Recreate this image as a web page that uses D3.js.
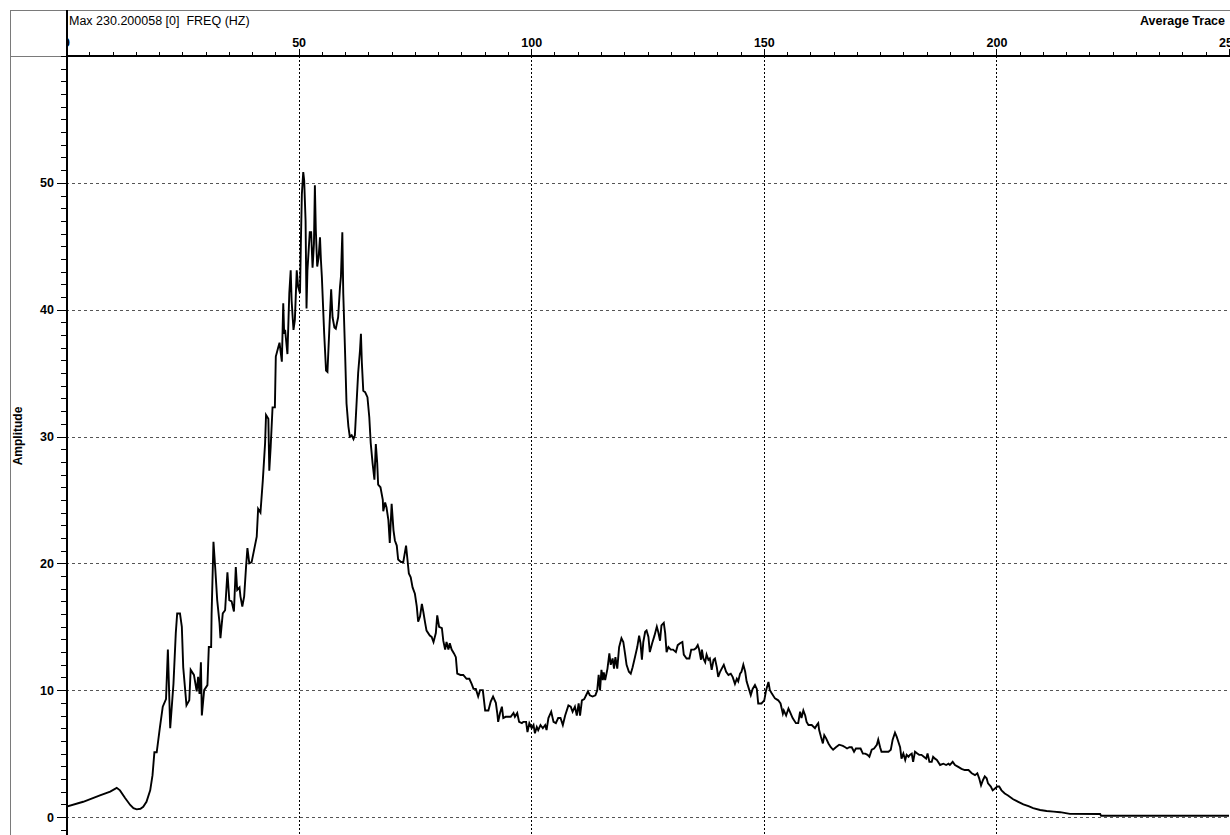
<!DOCTYPE html>
<html>
<head>
<meta charset="utf-8">
<title>Average Trace – Amplitude spectrum</title>
<script src="https://cdn.jsdelivr.net/npm/d3@7"></script>
<style>
  html, body { margin: 0; padding: 0; background: #fff; }
  svg { display: block; font-family: "Liberation Sans", Arial, sans-serif; }
</style>
</head>
<body>
<svg id="chart" width="1230" height="835"></svg>
<script>
// ---- header texts ----
const headerLeft = "Max 230.200058 [0]  FREQ (HZ)";
const headerRight = "Average Trace";
const yTitle = "Amplitude";

// ---- tick values ----
const xMajorTicks = [0, 50, 100, 150, 200, 250];
const xGridTicks = [50, 100, 150, 200];
const yMajorTicks = [0, 10, 20, 30, 40, 50];

// ---- spectrum: frequency (Hz) and amplitude ----
const freqHz = [
  0, 3.7, 7.3, 9.5, 10.9, 11.6, 12.7, 13.8, 14.5, 15.2,
  16.0, 16.6, 17.3, 18.1, 18.6, 19.0, 19.5, 20.2, 20.8, 21.5,
  21.9, 22.4, 23.1, 23.6, 23.9, 24.5, 24.9, 25.2, 25.9, 26.5,
  26.8, 27.5, 28.1, 28.4, 28.7, 29.0, 29.2, 29.7, 30.4, 30.7,
  31.2, 31.3, 31.7, 32.1, 32.5, 33.0, 33.2, 33.7, 34.2, 34.7,
  35.1, 35.6, 36.1, 36.5, 36.8, 37.3, 37.5, 37.9, 38.3, 38.7,
  39.0, 39.4, 39.9, 40.4, 41.0, 41.3, 41.8, 42.3, 42.8, 43.0,
  43.5, 43.7, 44.0, 44.4, 44.9, 45.1, 45.6, 45.9, 46.2, 46.4,
  46.7, 46.9, 47.1, 47.6, 48.0, 48.3, 48.5, 48.9, 49.2, 49.6,
  49.9, 50.3, 50.5, 50.7, 51.0, 51.2, 51.5, 51.7, 51.9, 52.2,
  52.4, 52.7, 53.0, 53.3, 53.5, 53.7, 54.0, 54.3, 54.6, 54.8,
  55.0, 55.5, 55.9, 56.2, 56.6, 57.0, 57.3, 57.7, 58.0, 58.5,
  58.9, 59.1, 59.4, 59.6, 60.0, 60.3, 60.7, 61.0, 61.4, 61.8,
  62.1, 62.5, 62.8, 63.2, 63.4, 63.6, 63.9, 64.3, 64.8, 65.2,
  65.5, 65.9, 66.3, 66.6, 66.9, 67.1, 67.6, 68.1, 68.2, 68.6,
  68.9, 69.3, 69.6, 70.0, 70.4, 70.7, 71.1, 71.4, 72.0, 72.5,
  73.1, 73.4, 73.7, 74.1, 74.5, 75.0, 75.4, 75.7, 76.1, 76.5,
  76.8, 77.2, 77.5, 78.2, 78.6, 79.0, 79.5, 79.8, 80.2, 80.8,
  81.1, 81.5, 81.8, 82.2, 82.5, 82.9, 83.4, 83.8, 84.1, 84.8,
  85.4, 86.1, 86.7, 87.2, 87.6, 88.1, 88.6, 89.0, 89.6, 90.1,
  90.8, 91.3, 91.8, 92.4, 92.7, 92.9, 93.3, 93.7, 94.0, 94.5,
  95.1, 95.6, 96.2, 96.5, 97.0, 97.4, 98.0, 98.3, 98.9, 99.2,
  99.6, 100.1, 100.5, 100.8, 101.2, 101.5, 102.0, 102.5, 103.0, 103.3,
  103.7, 104.3, 104.8, 105.3, 105.8, 106.3, 106.8, 107.3, 108.0, 108.5,
  108.9, 109.4, 109.8, 110.2, 110.5, 110.9, 111.4, 111.8, 112.2, 112.6,
  113.2, 113.8, 114.2, 114.5, 114.8, 115.1, 115.4, 115.6, 115.9, 116.4,
  116.8, 117.1, 117.5, 117.8, 118.1, 118.5, 118.9, 119.4, 119.8, 120.2,
  120.5, 121.0, 121.4, 121.8, 122.3, 122.8, 123.2, 123.5, 123.8, 124.1,
  124.5, 124.8, 125.2, 125.5, 126.0, 126.5, 127.0, 127.3, 127.7, 128.0,
  128.5, 128.8, 129.1, 129.5, 130.0, 130.5, 131.1, 131.5, 132.0, 132.5,
  132.8, 133.4, 134.0, 134.4, 135.0, 135.4, 135.8, 136.1, 136.5, 136.7,
  137.0, 137.4, 137.7, 138.1, 138.4, 138.8, 139.2, 139.5, 139.9, 140.2,
  140.6, 141.1, 141.4, 141.9, 142.4, 142.9, 143.3, 143.8, 144.2, 144.5,
  144.9, 145.2, 145.6, 146.0, 146.3, 146.8, 147.2, 147.6, 148.1, 148.5,
  148.8, 149.5, 150.1, 150.5, 151.0, 151.3, 151.7, 152.4, 153.1, 153.6,
  154.1, 154.3, 154.8, 155.3, 155.6, 156.2, 156.9, 157.4, 157.8, 158.1,
  158.5, 158.9, 159.2, 159.6, 160.3, 161.0, 161.4, 161.7, 161.9, 162.3,
  162.7, 163.0, 163.4, 163.9, 164.4, 164.9, 165.5, 166.2, 167.0, 167.5,
  167.9, 168.4, 168.9, 169.4, 169.8, 170.3, 170.8, 171.3, 171.8, 172.3,
  172.7, 173.2, 173.7, 174.3, 174.6, 175.0, 175.3, 176.0, 176.8, 177.3,
  177.7, 178.2, 178.6, 178.9, 179.3, 179.6, 180.0, 180.4, 180.7, 181.1,
  181.4, 181.8, 182.1, 182.5, 183.0, 183.4, 183.9, 184.4, 184.9, 185.2,
  185.6, 186.1, 186.4, 186.8, 187.2, 187.9, 188.6, 189.2, 189.7, 190.0,
  190.6, 191.1, 191.8, 192.5, 193.2, 194.0, 194.7, 195.4, 195.9, 196.3,
  196.7, 197.1, 197.5, 197.9, 198.2, 198.8, 199.2, 199.7, 200.2, 200.6,
  201.1, 201.8, 202.5, 203.6, 204.7, 205.8, 206.9, 207.9, 209.4, 210.8,
  212.3, 213.7, 215.8, 222.3, 222.5, 250
];
const amplitude = [
  0.8, 1.2, 1.7, 2.0, 2.3, 2.1, 1.5, 0.95, 0.7, 0.6,
  0.65, 0.8, 1.2, 2.1, 3.3, 5.1, 5.1, 7.1, 8.7, 9.3,
  13.2, 7.0, 10.5, 14.5, 16.05, 16.05, 15.0, 11.8, 8.8, 9.2,
  11.6, 11.2, 9.9, 11.05, 9.7, 12.2, 8.0, 10.0, 10.4, 13.4,
  13.4, 16.05, 21.7, 19.5, 17.1, 15.3, 14.1, 16.05, 16.3, 19.3,
  17.1, 17.0, 16.2, 19.7, 17.9, 18.1, 17.4, 16.6, 17.4, 19.7,
  21.2, 20.0, 20.1, 21.0, 22.1, 24.3, 24.0, 26.5, 29.5, 31.7,
  31.4, 27.3, 29.2, 32.3, 32.3, 36.3, 37.0, 37.4, 36.5, 35.9,
  40.5, 38.1, 38.4, 36.5, 41.3, 43.1, 40.7, 38.4, 39.2, 43.1,
  41.8, 41.3, 45.5, 49.1, 50.85, 50.2, 47.0, 40.1, 43.1, 44.9,
  46.1, 46.1, 43.3, 45.2, 49.8, 46.3, 43.4, 44.1, 45.7, 43.9,
  42.6, 38.1, 35.2, 35.1, 38.4, 41.6, 39.4, 38.6, 38.5, 39.4,
  41.8, 42.6, 46.1, 41.3, 36.5, 32.6, 30.8, 30.0, 30.1, 29.8,
  30.1, 32.9, 35.0, 36.8, 38.1, 35.8, 33.6, 33.5, 33.1, 31.5,
  29.5, 27.9, 26.6, 29.4, 27.9, 26.2, 26.0, 25.0, 24.1, 24.8,
  24.4, 23.4, 21.6, 24.7, 22.6, 21.8, 21.4, 20.3, 20.1, 20.1,
  21.4, 20.3, 19.2, 18.9, 18.1, 17.6, 16.6, 15.4, 15.8, 16.8,
  16.2, 15.3, 14.7, 14.3, 14.2, 13.8, 14.5, 15.9, 15.0, 14.9,
  13.9, 13.2, 13.8, 13.2, 13.7, 13.2, 12.9, 12.6, 11.3, 11.2,
  11.2, 10.9, 10.9, 10.5, 10.1, 10.1, 9.5, 10.0, 10.0, 8.4,
  8.4, 9.1, 9.5, 9.0, 8.2, 7.5, 8.2, 8.7, 7.8, 7.9,
  7.9, 7.9, 8.2, 7.9, 8.2, 7.5, 7.4, 7.5, 7.5, 6.7,
  7.4, 7.0, 7.25, 6.6, 7.1, 6.85, 7.25, 7.0, 7.25, 6.85,
  7.8, 8.3, 7.5, 7.4, 7.8, 7.8, 7.25, 8.0, 8.8, 8.7,
  8.3, 8.7, 8.0, 8.95, 8.0, 9.2, 9.3, 9.6, 9.9, 9.6,
  9.5, 9.6, 10.0, 11.2, 10.0, 11.6, 10.8, 11.4, 10.8, 11.7,
  12.9, 12.0, 12.5, 11.7, 12.6, 11.7, 13.4, 14.1, 13.8, 12.8,
  12.0, 11.45, 11.3, 11.8, 12.6, 13.4, 14.3, 13.7, 12.4, 13.8,
  14.6, 14.7, 14.2, 13.0, 13.7, 14.3, 15.0, 14.6, 13.9, 15.1,
  15.3, 14.5, 13.0, 13.4, 13.2, 13.2, 13.0, 13.55, 13.7, 13.8,
  12.8, 12.5, 12.5, 13.2, 13.2, 13.3, 13.55, 13.2, 12.4, 13.2,
  12.5, 12.2, 12.8, 12.4, 12.5, 11.6, 12.4, 12.5, 11.8, 11.05,
  11.45, 11.8, 12.0, 11.45, 11.2, 11.3, 11.05, 10.5, 10.9, 10.7,
  11.3, 11.45, 12.0, 11.45, 10.7, 10.1, 9.6, 10.1, 10.4, 10.1,
  8.95, 8.95, 9.2, 10.0, 10.65, 10.0, 9.75, 9.35, 9.2, 8.95,
  8.15, 8.4, 8.0, 8.55, 8.3, 7.8, 7.4, 7.4, 8.3, 7.8,
  8.4, 8.0, 7.5, 7.25, 7.25, 7.0, 7.25, 7.4, 6.85, 6.3,
  5.8, 6.45, 6.2, 5.8, 5.5, 5.3, 5.5, 5.7, 5.6, 5.5,
  5.4, 5.5, 5.5, 5.15, 5.4, 5.4, 5.4, 5.0, 5.0, 4.9,
  4.75, 5.3, 5.4, 5.7, 6.1, 5.5, 5.15, 5.15, 5.15, 5.3,
  6.1, 6.65, 6.3, 5.95, 5.5, 4.6, 5.0, 4.5, 4.9, 4.75,
  4.9, 5.0, 4.35, 5.15, 5.0, 4.9, 4.9, 4.75, 4.6, 5.0,
  4.35, 4.35, 4.75, 4.6, 4.5, 4.1, 4.2, 4.1, 4.2, 4.1,
  4.35, 4.1, 3.95, 3.8, 3.7, 3.7, 3.45, 3.3, 3.45, 3.05,
  2.5, 2.9, 3.2, 3.05, 2.65, 2.4, 2.1, 2.25, 2.4, 2.4,
  2.1, 1.85, 1.7, 1.4, 1.2, 1.0, 0.85, 0.7, 0.55, 0.47,
  0.42, 0.38, 0.25, 0.24, 0.1, 0.1
];

// ---- layout ----
const W = 1230, H = 835;
const frameLeft = 10, frameTop = 10;
const plotLeft = 66, plotTop = 56, plotRight = W, plotBottom = H;

const x = d3.scaleLinear().domain([0, 250]).range([plotLeft, 1229]);
const y = d3.scaleLinear().domain([0, 60]).range([817, plotTop]);

const svg = d3.select("#chart");

svg.append("rect").attr("width", W).attr("height", H).attr("fill", "#fff");

const defs = svg.append("defs");
defs.append("clipPath").attr("id", "plot-clip")
  .append("rect")
  .attr("x", plotLeft + 1).attr("y", plotTop + 1)
  .attr("width", plotRight - plotLeft).attr("height", plotBottom - plotTop);
// label strip of the top axis, in the axis group's own coordinates
defs.append("clipPath").attr("id", "xlabel-clip")
  .append("rect")
  .attr("x", plotLeft + 1).attr("y", frameTop - plotTop)
  .attr("width", plotRight - plotLeft).attr("height", plotTop - frameTop);

// ---- frame lines ----
const frame = svg.append("g").attr("stroke", "#7a7a7a").attr("stroke-width", 1).attr("shape-rendering", "crispEdges");
frame.append("line").attr("x1", frameLeft).attr("x2", W).attr("y1", frameTop + 0.5).attr("y2", frameTop + 0.5);
frame.append("line").attr("x1", frameLeft + 0.5).attr("x2", frameLeft + 0.5).attr("y1", frameTop).attr("y2", H);
frame.append("line").attr("x1", frameLeft).attr("x2", plotLeft).attr("y1", plotTop + 0.5).attr("y2", plotTop + 0.5);

// ---- gridlines ----
const grid = svg.append("g").attr("clip-path", "url(#plot-clip)").attr("shape-rendering", "crispEdges");
grid.selectAll("line.hgrid").data(yMajorTicks).join("line")
  .attr("class", "hgrid")
  .attr("x1", plotLeft).attr("x2", plotRight)
  .attr("y1", d => Math.round(y(d)) + 0.5).attr("y2", d => Math.round(y(d)) + 0.5)
  .attr("stroke", "#555").attr("stroke-width", 1).attr("stroke-dasharray", "3,3");
grid.selectAll("line.vgrid").data(xGridTicks).join("line")
  .attr("class", "vgrid")
  .attr("x1", d => Math.round(x(d)) + 0.5).attr("x2", d => Math.round(x(d)) + 0.5)
  .attr("y1", plotTop).attr("y2", plotBottom)
  .attr("stroke", "#000").attr("stroke-width", 1).attr("stroke-dasharray", "2,2");

// ---- top frequency axis ----
const xMinor = svg.append("g").attr("transform", `translate(0,${plotTop})`)
  .call(d3.axisTop(x).tickValues(d3.range(0, 251, 5)).tickSize(4).tickFormat(""));
const xMajor = svg.append("g").attr("transform", `translate(0,${plotTop})`)
  .attr("clip-path", "url(#xlabel-clip)")
  .call(d3.axisTop(x).tickValues(xMajorTicks).tickSize(7).tickPadding(2).tickFormat(d3.format("d")));
[xMinor, xMajor].forEach(g => {
  g.select(".domain").remove();
  g.selectAll(".tick line").attr("stroke", "#000").attr("shape-rendering", "crispEdges");
});
xMajor.attr("font-size", 12.5).attr("font-weight", "bold")
  .attr("font-family", "'Liberation Sans', Arial, sans-serif");
xMajor.selectAll(".tick text").attr("fill", "#000");

// ---- left amplitude axis ----
const yMinor = svg.append("g").attr("transform", `translate(${plotLeft},0)`)
  .call(d3.axisLeft(y).tickValues(d3.range(-1, 61, 1)).tickSize(5).tickFormat(""));
const yMajor = svg.append("g").attr("transform", `translate(${plotLeft},0)`)
  .call(d3.axisLeft(y).tickValues(yMajorTicks).tickSize(9).tickPadding(3).tickFormat(d3.format("d")));
[yMinor, yMajor].forEach(g => {
  g.select(".domain").remove();
  g.selectAll(".tick line").attr("stroke", "#000").attr("shape-rendering", "crispEdges");
});
yMajor.attr("font-size", 12.5).attr("font-weight", "bold")
  .attr("font-family", "'Liberation Sans', Arial, sans-serif");
yMajor.selectAll(".tick text").attr("fill", "#000");

// ---- axis lines ----
svg.append("line")
  .attr("x1", plotLeft + 0.5).attr("x2", plotLeft + 0.5)
  .attr("y1", frameTop).attr("y2", H)
  .attr("stroke", "#000").attr("stroke-width", 2).attr("shape-rendering", "crispEdges");
svg.append("line")
  .attr("x1", plotLeft).attr("x2", W)
  .attr("y1", plotTop).attr("y2", plotTop)
  .attr("stroke", "#000").attr("stroke-width", 2).attr("shape-rendering", "crispEdges");

// ---- trace ----
const points = freqHz.map((f, i) => [f, amplitude[i]]);
svg.append("path")
  .datum(points)
  .attr("clip-path", "url(#plot-clip)")
  .attr("fill", "none")
  .attr("stroke", "#000")
  .attr("stroke-width", 1.9)
  .attr("stroke-linejoin", "miter")
  .attr("d", d3.line().x(d => x(d[0])).y(d => y(d[1])));

// ---- header texts ----
svg.append("text")
  .attr("x", 69).attr("y", 25)
  .attr("font-size", 12.5)
  .attr("fill", "#000")
  .style("white-space", "pre")
  .text(headerLeft);
svg.append("text")
  .attr("x", 1225).attr("y", 25)
  .attr("text-anchor", "end")
  .attr("font-size", 12.5).attr("font-weight", "bold")
  .attr("fill", "#000")
  .text(headerRight);

// ---- y-axis title ----
svg.append("text")
  .attr("transform", "translate(22,436) rotate(-90)")
  .attr("text-anchor", "middle")
  .attr("font-size", 12).attr("font-weight", "bold")
  .attr("fill", "#000")
  .text(yTitle);
</script>
</body>
</html>
